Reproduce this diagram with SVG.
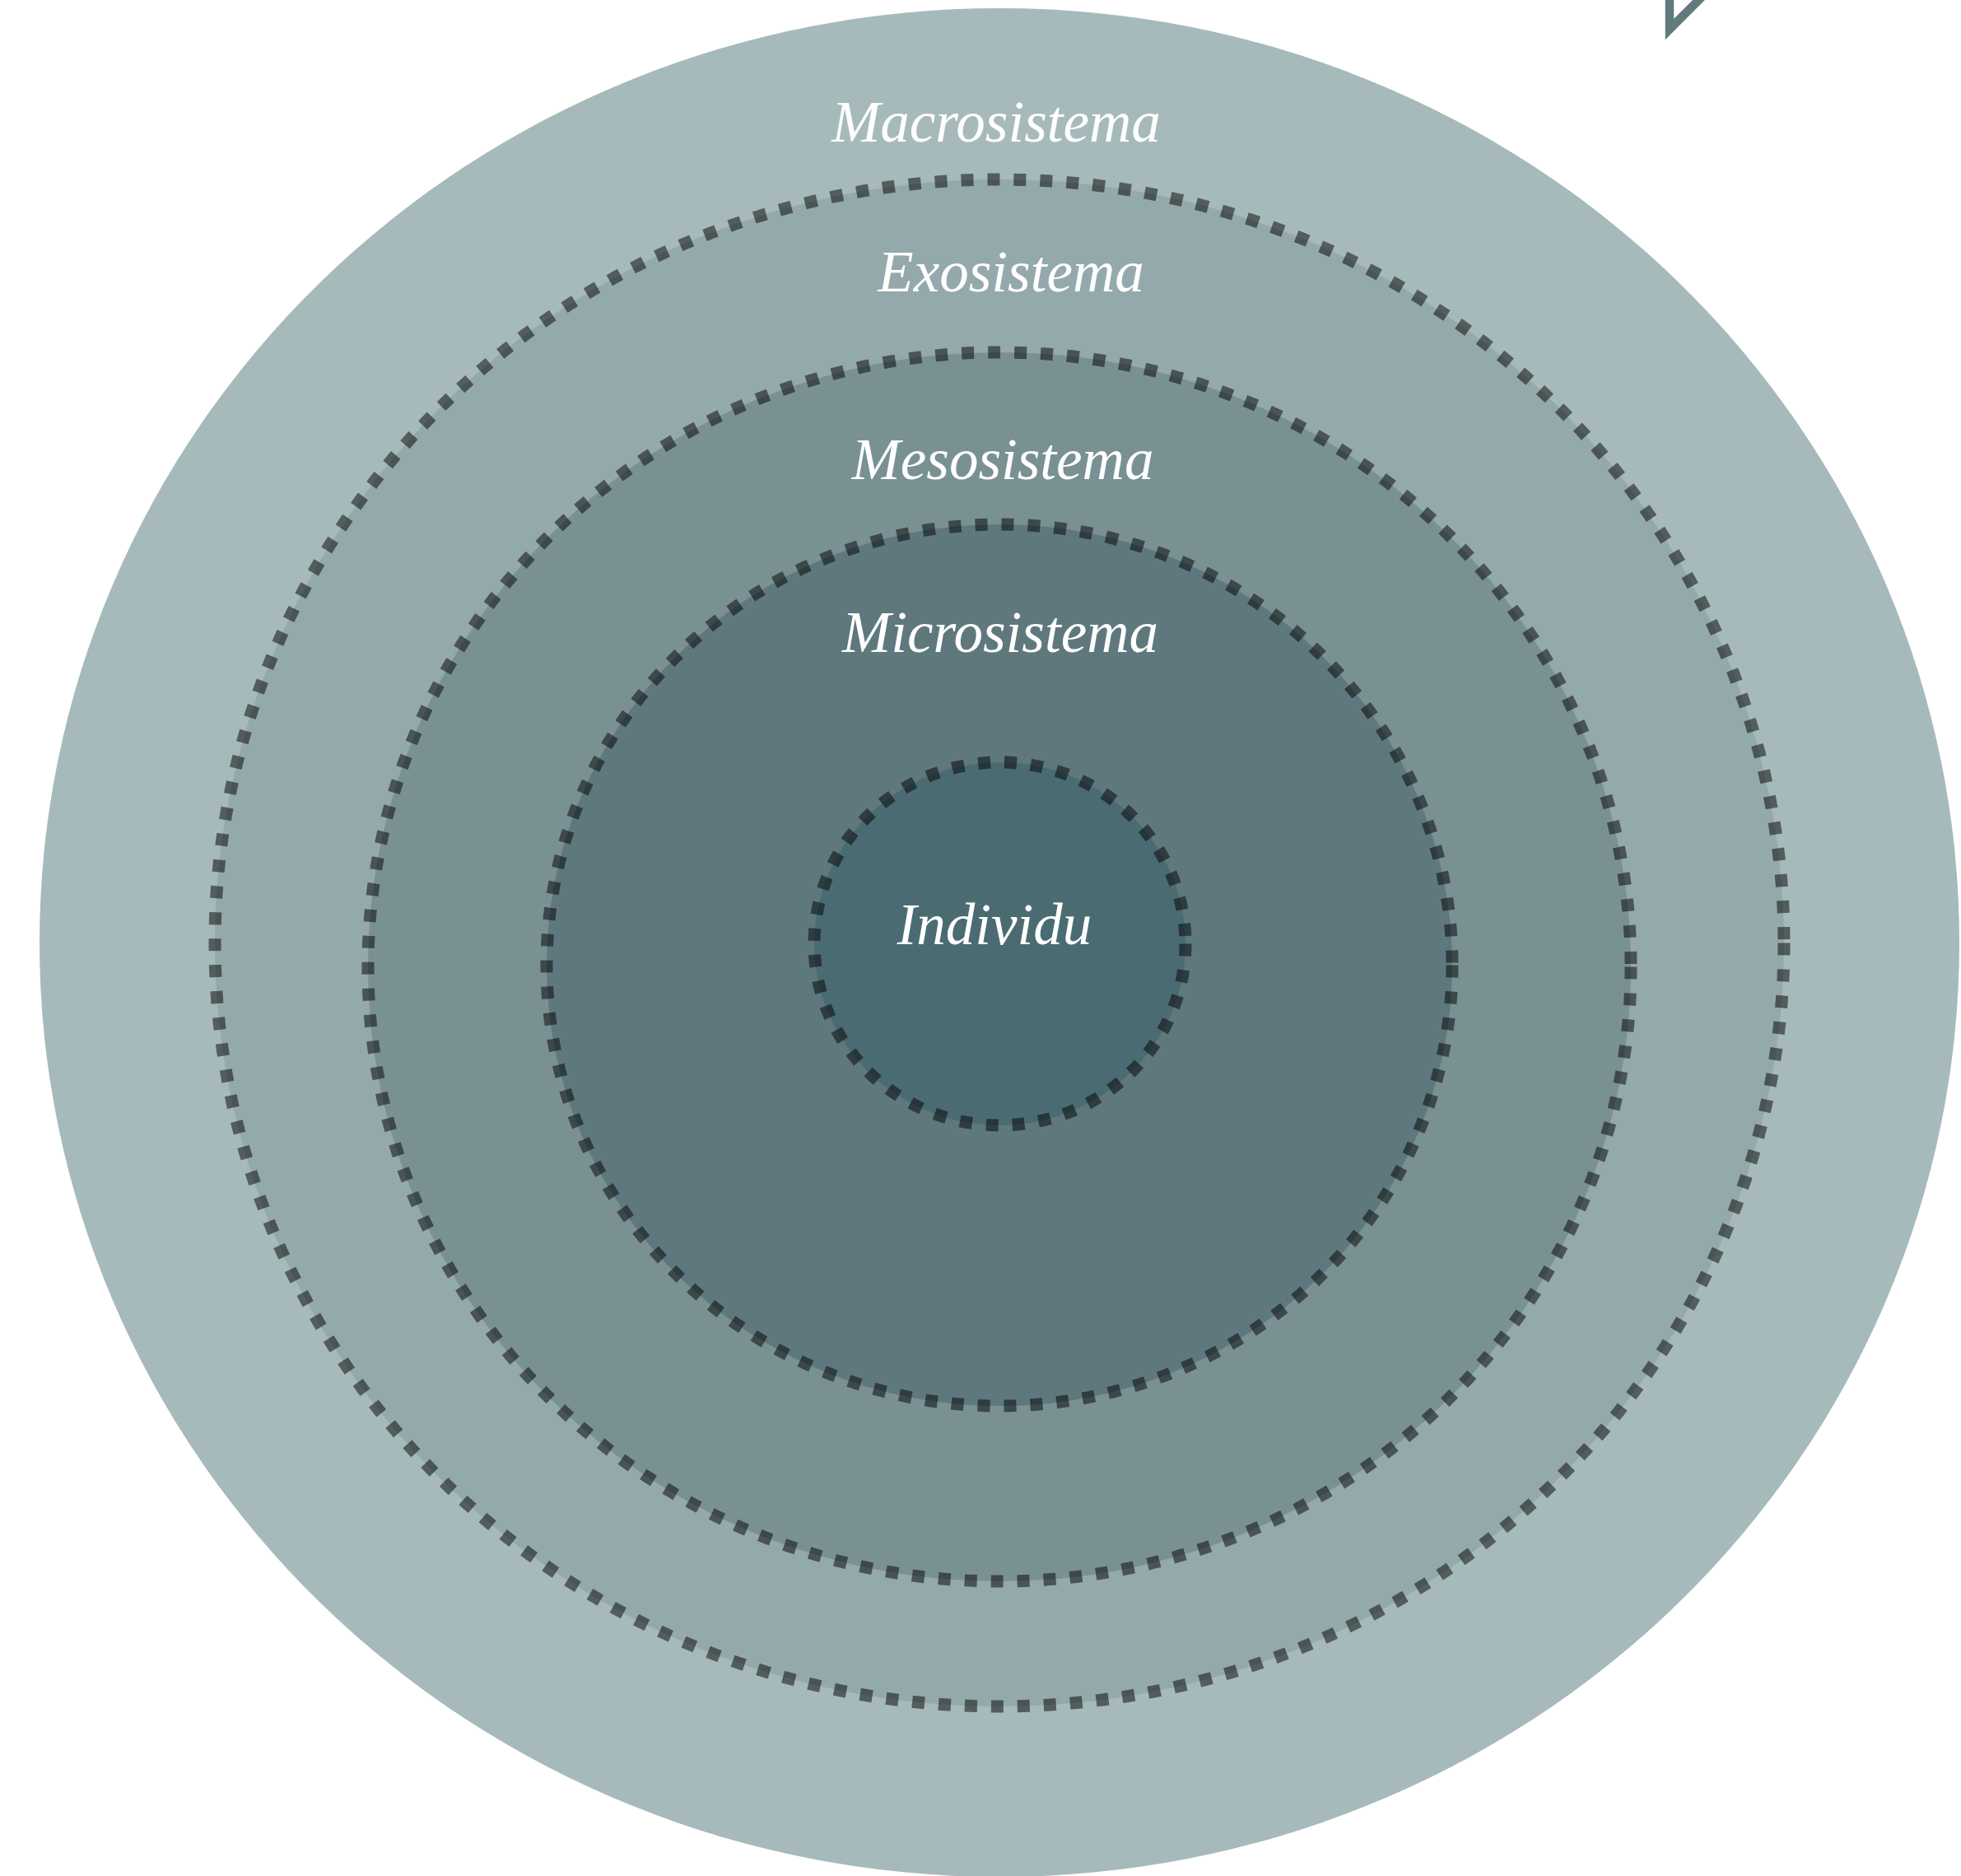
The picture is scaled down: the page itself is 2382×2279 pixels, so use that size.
<svg xmlns="http://www.w3.org/2000/svg" width="2382" height="2279" viewBox="0 0 2382 2279">
  <style>
    .ring { stroke: #000000; stroke-opacity: 0.5; stroke-width: 15; stroke-dasharray: 15 17; }
    .label { font-family: "Liberation Serif", "DejaVu Serif", serif; font-style: italic; font-size: 71px; fill: #ffffff; text-anchor: middle; }
  </style>
  <rect x="0" y="0" width="2382" height="2279" fill="#ffffff"/>
  <polygon points="2028,35.5 2028,-80 2143.5,-80" fill="none" stroke="#627a7e" stroke-width="10.5" stroke-linejoin="miter"/>
  <g id="macrosistema">
    <ellipse cx="1214" cy="1145" rx="1166" ry="1135" fill="#a6babb"/>
    <text class="label" x="1210" y="172">Macrosistema</text>
  </g>
  <g id="exosistema">
    <ellipse cx="1214" cy="1145.5" rx="953" ry="927.5" fill="#94a9ab"/>
    <ellipse class="ring" cx="1214" cy="1145.5" rx="953" ry="927.5" fill="none"/>
    <text class="label" x="1228" y="354">Exosistema</text>
  </g>
  <g id="mesosistema">
    <ellipse cx="1214" cy="1174.5" rx="767" ry="746.5" fill="#7a9194"/>
    <ellipse class="ring" cx="1214" cy="1174.5" rx="767" ry="746.5" fill="none"/>
    <text class="label" x="1218" y="582">Mesosistema</text>
  </g>
  <g id="microsistema">
    <ellipse cx="1214" cy="1172.5" rx="550" ry="535.5" fill="#5e787e"/>
    <ellipse class="ring" cx="1214" cy="1172.5" rx="550" ry="535.5" fill="none"/>
    <text class="label" x="1215" y="792">Microsistema</text>
  </g>
  <g id="individu">
    <ellipse cx="1214.5" cy="1146.5" rx="225.5" ry="220.5" fill="#4b6b73"/>
    <ellipse class="ring" cx="1214.5" cy="1146.5" rx="225.5" ry="220.5" fill="none"/>
    <text class="label" x="1208" y="1147">Individu</text>
  </g>
  <g id="connectors"/>
</svg>
